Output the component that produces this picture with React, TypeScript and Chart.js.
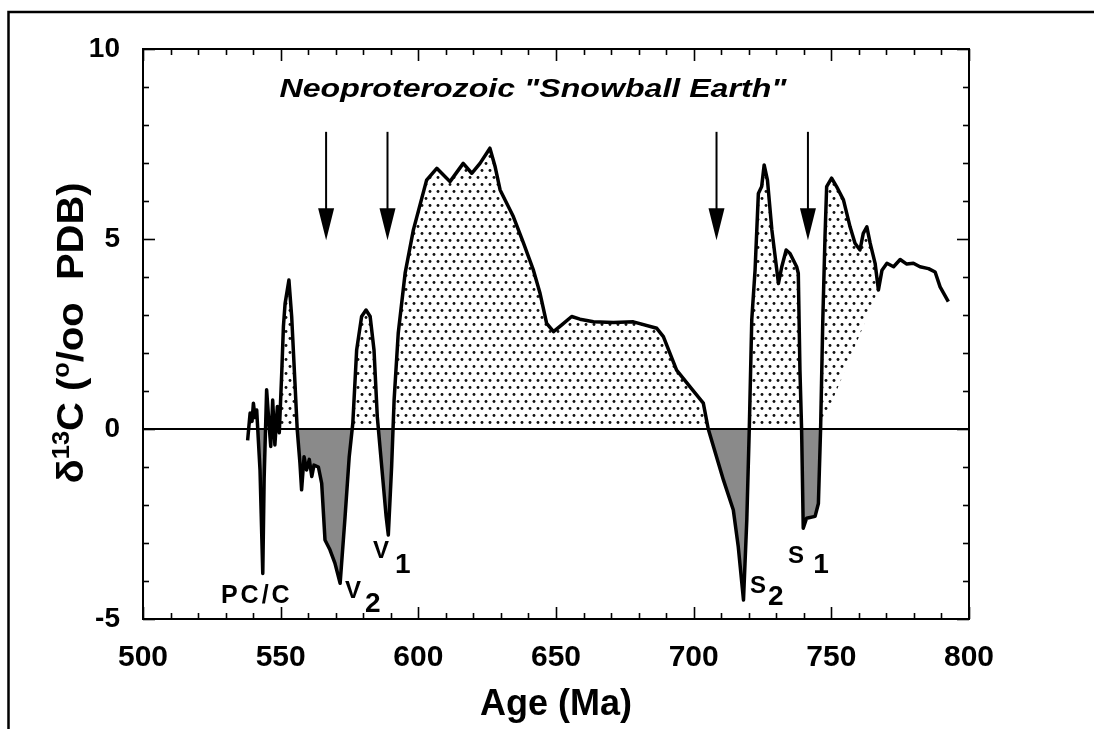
import React, { useEffect, useRef } from "react";
import { Chart, registerables } from "chart.js";

Chart.register(...registerables);

const FONT = '"Liberation Sans", Arial, Helvetica, sans-serif';

const ages = [
  538.0, 538.5, 538.9, 539.6, 540.1, 540.7, 541.3, 541.9, 542.5, 543.5,
  544.0, 544.9, 545.9, 546.4, 547.1, 547.9, 548.8, 549.5, 550.4, 551.0,
  551.6, 553.0, 554.0, 555.2, 556.0, 557.0, 557.6, 558.5, 559.4, 560.4,
  561.3, 562.1, 563.7, 564.9, 566.1, 567.9, 569.7, 571.6, 573.4, 574.9,
  576.2, 577.6, 579.4, 581.0, 582.5, 583.9, 585.1, 586.7, 588.3, 589.1,
  590.3, 591.2, 592.7, 595.2, 598.2, 603.0, 606.7, 608.5, 611.5, 616.3,
  619.4, 622.4, 626.0, 627.9, 629.7, 634.5, 638.2, 641.8, 644.2, 646.6,
  649.1, 652.1, 655.7, 658.7, 663.6, 670.8, 678.1, 686.6, 689.0, 693.8,
  698.7, 703.5, 705.3, 710.8, 714.4, 716.2, 718.1, 719.3, 720.2, 721.1,
  722.3, 723.5, 724.7, 725.6, 726.8, 728.4, 730.8, 732.0, 733.6, 735.0,
  737.4, 738.0, 738.6, 739.2, 739.8, 741.0, 744.1, 745.3, 746.1, 746.9,
  747.7, 748.3, 750.1, 751.9, 754.4, 756.8, 758.6, 760.4, 761.6, 762.9,
  764.1, 765.9, 767.1, 768.4, 770.2, 772.6, 775.0, 777.4, 779.8, 782.2,
  785.3, 787.7, 789.5, 792.5,
];

// δ13C (‰ PDB) at each age
const d13C = [
  -0.3, 0.1, 0.42, 0.2, 0.68, 0.3, 0.5, -0.3, -1.08, -3.8,
  -1.3, 1.03, 0.0, -0.46, 0.76, -0.42, 0.59, -0.1, 1.5, 2.7,
  3.3, 3.92, 2.96, 1.2, 0.0, -0.9, -1.6, -0.73, -1.08, -0.8,
  -1.25, -0.95, -1.0, -1.43, -2.92, -3.18, -3.53, -4.06, -2.3, -0.73,
  0.15, 2.08, 2.96, 3.13, 2.96, 2.08, 0.32, -0.99, -2.3, -2.79,
  -0.99, 0.76, 2.52, 4.1, 5.24, 6.55, 6.86, 6.73, 6.51, 6.99,
  6.73, 6.99, 7.39, 6.9, 6.29, 5.59, 4.89, 4.18, 3.57, 2.78,
  2.56, 2.74, 2.96, 2.89, 2.82, 2.8, 2.82, 2.65, 2.43, 1.55,
  1.11, 0.68, 0.0, -1.34, -2.13, -3.1, -4.5, -2.39, 0.0, 2.87,
  4.18, 6.2, 6.38, 6.95, 6.55, 5.24, 3.83, 4.27, 4.71, 4.62,
  4.27, 4.1, 1.55, 0.0, -2.61, -2.35, -2.3, -1.96, 0.0, 2.87,
  5.06, 6.38, 6.6, 6.38, 6.03, 5.32, 4.89, 4.71, 5.15, 5.32,
  4.89, 4.36, 3.66, 4.18, 4.36, 4.27, 4.46, 4.34, 4.36, 4.27,
  4.22, 4.13, 3.74, 3.35,
];

// Shading ranges (ages)
const shadeToZeroEnd = 746.1;
const stippleBaseAges = [746.1, 767.1];
const stippleBaseValues = [0, 3.66];

// Axis ranges / tick labels
const xRange = [500, 800];
const yRange = [-5, 10];
const xTickStep = 50;
const yTickStep = 5;

// Glaciation arrows (age, from value, to value)
const arrowAges = [566.5, 588.8, 708.3, 741.5];
const arrowFrom = 7.82;
const arrowTo = 4.97;

// Event labels
const eventNames = ["PC/C", "V", "V", "S", "S"];
const eventSubs = ["", "2", "1", "2", "1"];
const eventAges = [528.3, 573.4, 583.5, 720.5, 734.3];
const eventValues = [-4.58, -4.45, -3.39, -4.32, -3.53];
const subAges = [0, 580.6, 591.5, 727.0, 743.4];
const subValues = [0, -4.82, -3.79, -4.63, -3.79];

const titleText = 'Neoproterozoic "Snowball Earth"';
const xTitle = "Age (Ma)";
const yTitleParts = ["δ", "13", "C (", "o", "/oo  PDB)"];
const yTitleSup = [false, true, false, true, false];

function makeStipple(): CanvasPattern | string {
  const c = document.createElement("canvas");
  c.width = 8;
  c.height = 14;
  const g = c.getContext("2d");
  if (!g) return "#ddd";
  g.fillStyle = "#fff";
  g.fillRect(0, 0, 8, 14);
  g.fillStyle = "#111";
  g.beginPath();
  g.arc(2, 2.5, 1.45, 0, Math.PI * 2);
  g.fill();
  g.beginPath();
  g.arc(6, 9.5, 1.45, 0, Math.PI * 2);
  g.fill();
  return g.createPattern(c, "repeat") || "#ddd";
}

const decorPlugin = {
  id: "decor",
  afterDraw(chart: any) {
    const { ctx, chartArea: a, scales } = chart;
    const xs = scales.x;
    const ys = scales.y;
    ctx.save();
    ctx.strokeStyle = "#000";
    ctx.fillStyle = "#000";

    // outer figure border (top & left)
    ctx.lineWidth = 2.5;
    ctx.beginPath();
    ctx.moveTo(8.5, 729);
    ctx.lineTo(8.5, 12);
    ctx.lineTo(1094, 12);
    ctx.stroke();

    // plot frame
    ctx.lineWidth = 2;
    ctx.strokeRect(a.left, a.top, a.right - a.left, a.bottom - a.top);

    // inward ticks on all four sides
    ctx.lineWidth = 1.6;
    const seg = (x1: number, y1: number, x2: number, y2: number) => {
      ctx.beginPath();
      ctx.moveTo(x1, y1);
      ctx.lineTo(x2, y2);
      ctx.stroke();
    };
    for (let v = xRange[0]; v <= xRange[1]; v += 10) {
      const p = Math.round(xs.getPixelForValue(v)) + 0.5;
      const len = v % 50 === 0 ? 12 : 6;
      seg(p, a.bottom, p, a.bottom - len);
      seg(p, a.top, p, a.top + len);
    }
    for (let v = yRange[0]; v <= yRange[1]; v += 1) {
      const p = Math.round(ys.getPixelForValue(v)) + 0.5;
      const len = v % 5 === 0 ? 12 : 6;
      seg(a.left, p, a.left + len, p);
      seg(a.right, p, a.right - len, p);
    }

    // arrows
    ctx.lineWidth = 2;
    arrowAges.forEach((age) => {
      const x = xs.getPixelForValue(age);
      const y0 = ys.getPixelForValue(arrowFrom);
      const y1 = ys.getPixelForValue(arrowTo);
      seg(x, y0, x, y1 - 20);
      ctx.beginPath();
      ctx.moveTo(x - 8, y1 - 32);
      ctx.lineTo(x + 8, y1 - 32);
      ctx.lineTo(x, y1);
      ctx.closePath();
      ctx.fill();
    });

    // event labels
    ctx.textBaseline = "alphabetic";
    ctx.textAlign = "left";
    eventNames.forEach((name, i) => {
      const x = xs.getPixelForValue(eventAges[i]);
      const y = ys.getPixelForValue(eventValues[i]);
      if (eventSubs[i]) {
        ctx.font = `bold 24px ${FONT}`;
        ctx.fillText(name, x, y);
        ctx.font = `bold 28px ${FONT}`;
        ctx.fillText(eventSubs[i], xs.getPixelForValue(subAges[i]), ys.getPixelForValue(subValues[i]));
      } else {
        ctx.font = `bold 25px ${FONT}`;
        (ctx as any).letterSpacing = "3px";
        ctx.fillText(name, x, y);
        (ctx as any).letterSpacing = "0px";
      }
    });

    // title inside plot
    ctx.font = `italic bold 25px ${FONT}`;
    const tw = ctx.measureText(titleText).width;
    const targetW = 507;
    ctx.save();
    ctx.translate(533, 97);
    ctx.scale(targetW / tw, 1);
    ctx.textAlign = "center";
    ctx.fillText(titleText, 0, 0);
    ctx.restore();

    // y-axis title with superscripts
    const mainFont = `bold 36px ${FONT}`;
    const supFont = `bold 23px ${FONT}`;
    let total = 0;
    const widths = yTitleParts.map((t, i) => {
      ctx.font = yTitleSup[i] ? supFont : mainFont;
      const w = ctx.measureText(t).width;
      total += w;
      return w;
    });
    const targetLen = 301;
    ctx.save();
    ctx.translate(83, 333);
    ctx.rotate(-Math.PI / 2);
    ctx.scale(targetLen / total, 1);
    let cx = -total / 2;
    ctx.textAlign = "left";
    yTitleParts.forEach((t, i) => {
      ctx.font = yTitleSup[i] ? supFont : mainFont;
      ctx.fillText(t, cx, yTitleSup[i] ? -14 : 0);
      cx += widths[i];
    });
    ctx.restore();

    ctx.restore();
  },
};

export default function App() {
  const ref = useRef<HTMLCanvasElement | null>(null);

  useEffect(() => {
    if (!ref.current) return;
    const stipple = makeStipple();
    const grey = "#8a8a8a";

    const curve = ages.map((x, i) => ({ x, y: d13C[i] }));
    const partA = curve.filter((p) => p.x <= shadeToZeroEnd);
    const partB = curve.filter((p) => p.x >= stippleBaseAges[0] && p.x <= stippleBaseAges[1]);
    const base = stippleBaseAges.map((x, i) => ({ x, y: stippleBaseValues[i] }));
    const zero = xRange.map((x) => ({ x, y: 0 }));

    const chart = new Chart(ref.current, {
      type: "line",
      data: {
        datasets: [
          {
            data: curve,
            borderColor: "#000",
            borderWidth: 3.5,
            pointRadius: 0,
            fill: false,
            borderJoinStyle: "round",
            order: 0,
          },
          {
            data: zero,
            borderColor: "#000",
            borderWidth: 2,
            pointRadius: 0,
            fill: false,
            order: 1,
          },
          {
            data: partA,
            borderColor: "rgba(0,0,0,0)",
            borderWidth: 0,
            pointRadius: 0,
            fill: { target: { value: 0 }, above: stipple, below: grey },
            order: 2,
          },
          {
            data: partB,
            borderColor: "rgba(0,0,0,0)",
            borderWidth: 0,
            pointRadius: 0,
            fill: { target: 4, above: stipple, below: stipple },
            order: 3,
          },
          {
            data: base,
            borderColor: "rgba(0,0,0,0)",
            borderWidth: 0,
            pointRadius: 0,
            fill: false,
            order: 4,
          },
        ] as any,
      },
      options: {
        animation: false,
        responsive: false,
        devicePixelRatio: 1,
        events: [],
        layout: { padding: { top: 49, right: 125, left: 0, bottom: 0 } },
        plugins: {
          legend: { display: false },
          tooltip: { enabled: false },
        },
        scales: {
          x: {
            type: "linear",
            min: xRange[0],
            max: xRange[1],
            grid: { display: false },
            border: { display: false },
            ticks: {
              stepSize: xTickStep,
              color: "#000",
              padding: 13,
              font: { family: FONT, size: 30, weight: "bold" },
              callback: (v: any) => String(v),
            },
            title: {
              display: true,
              text: xTitle,
              color: "#000",
              font: { family: FONT, size: 36, weight: "bold" },
              padding: { top: 0, bottom: 2 },
            },
            afterFit: (s: any) => {
              s.height = 110;
            },
          },
          y: {
            type: "linear",
            min: yRange[0],
            max: yRange[1],
            grid: { display: false },
            border: { display: false },
            ticks: {
              stepSize: yTickStep,
              color: "#000",
              padding: 15,
              font: { family: FONT, size: 28, weight: "bold" },
              callback: (v: any) => String(v),
            },
            afterFit: (s: any) => {
              s.width = 143;
            },
          },
        },
      } as any,
      plugins: [decorPlugin],
    });
    return () => chart.destroy();
  }, []);

  return (
    <div style={{ position: "fixed", left: 0, top: 0, width: 1094, height: 729, background: "#fff" }}>
      <canvas ref={ref} width={1094} height={729} style={{ display: "block" }} />
    </div>
  );
}
